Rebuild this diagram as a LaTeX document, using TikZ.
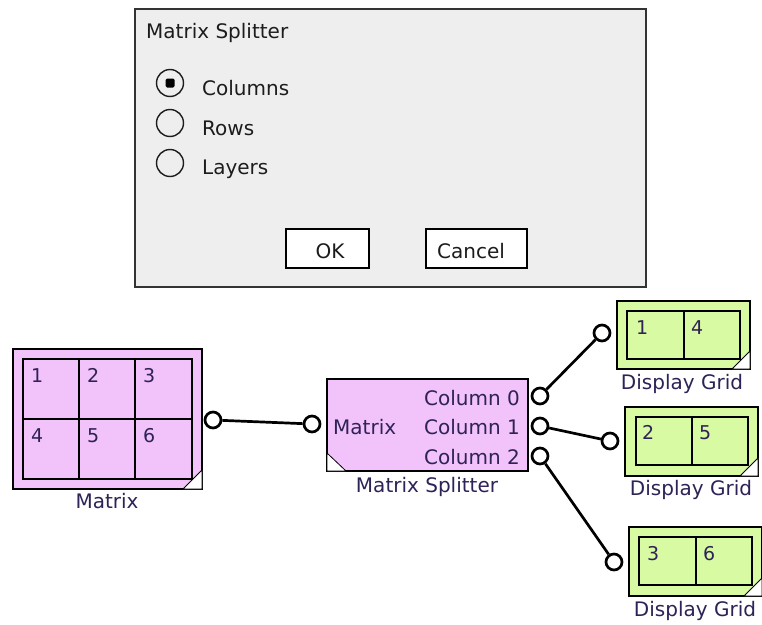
\documentclass[tikz,border=0pt]{standalone}
\usepackage{fontspec}
\setmainfont{DejaVu Sans}
\definecolor{dlgfill}{HTML}{EEEEEE}
\definecolor{dlgdraw}{HTML}{333333}
\definecolor{pinkc}{HTML}{F2C2FA}
\definecolor{greenc}{HTML}{D8FAA2}
\definecolor{labc}{HTML}{2E2256}
\definecolor{dtext}{HTML}{1C1C1C}
\tikzset{
  txt/.style={font=\fontsize{20}{24}\selectfont, inner sep=0pt},
  dlgtxt/.style={txt, text=dtext, anchor=base west},
  lbl/.style={txt, text=labc, anchor=base},
  num/.style={font=\fontsize{19}{22}\selectfont, text=labc, inner sep=0pt, anchor=base west},
  port/.style={circle, draw=black, line width=2.7pt, minimum size=16pt, inner sep=0pt, fill=white},
  wire/.style={line width=2.7pt, black},
  pinkblk/.style={rectangle, draw=black, line width=1.2pt, fill=pinkc, inner sep=0pt},
  greenblk/.style={rectangle, draw=black, line width=1.2pt, fill=greenc, inner sep=0pt},
  cell/.style={draw=black, line width=1.5pt},
  corner/.style={draw=black, line width=0.8pt, fill=white},
  radio/.style={circle, draw=dtext, line width=1.4pt, minimum size=27pt, inner sep=0pt, fill=dlgfill},
  btn/.style={rectangle, draw=black, line width=1.8pt, fill=white, inner sep=0pt},
}
\begin{document}
\begin{tikzpicture}[x=1pt, y=-1pt]
\useasboundingbox (0,0) rectangle (762,624);
\fill[white] (0,0) rectangle (762,624);

% ---------- dialog ----------
\node[rectangle, draw=dlgdraw, line width=2pt, fill=dlgfill, minimum width=511pt, minimum height=278pt, inner sep=0pt] (dialog) at (390.5,148) {};
\node[dlgtxt] (title) at (146,38) {Matrix Splitter};
\node[radio] (r1) at (170,83) {};
\node[radio] (r2) at (170,123) {};
\node[radio] (r3) at (170,163) {};
\fill[black, rounded corners=1.5pt] ([shift={(-4.5,-4.5)}]r1.center) rectangle ([shift={(4.5,4.5)}]r1.center);
\node[dlgtxt] (l1) at (202,95) {Columns};
\node[dlgtxt] (l2) at (202,135) {Rows};
\node[dlgtxt] (l3) at (202,174) {Layers};
\node[btn, minimum width=83pt, minimum height=39pt] (ok) at (327.5,248.5) {};
\node[txt, text=dtext, anchor=base] (oktxt) at (330,258) {OK};
\node[btn, minimum width=101pt, minimum height=39pt] (cancel) at (476.5,248.5) {};
\node[txt, text=dtext, anchor=base] (canceltxt) at (471,258) {Cancel};

% ---------- Matrix block ----------
\node[pinkblk, minimum width=189pt, minimum height=140pt] (mat) at (107.5,419) {};
\draw[cell] (23,359) rectangle (192,479);
\draw[cell] (79,359) -- (79,479);
\draw[cell] (135,359) -- (135,479);
\draw[cell] (23,419) -- (192,419);
\fill[corner] (183,489) -- (202,489) -- (202,470) -- cycle;
\node[num] (m1) at (31,382) {1};
\node[num] (m2) at (87,382) {2};
\node[num] (m3) at (143,382) {3};
\node[num] (m4) at (31,442) {4};
\node[num] (m5) at (87,442) {5};
\node[num] (m6) at (143,442) {6};
\node[lbl] (matlbl) at (107,508) {Matrix};
\node[port] (matout) at (213,420) {};

% ---------- Matrix Splitter block ----------
\node[pinkblk, minimum width=201pt, minimum height=92pt] (split) at (427.5,425) {};
\fill[corner] (327,453) -- (327,471) -- (346,471) -- cycle;
\node[txt, text=labc, anchor=base west] (sin) at (333,434) {Matrix};
\node[txt, text=labc, anchor=base east] (c0) at (520,405) {Column 0};
\node[txt, text=labc, anchor=base east] (c1) at (520,434) {Column 1};
\node[txt, text=labc, anchor=base east] (c2) at (520,464) {Column 2};
\node[lbl] (splitlbl) at (427,492) {Matrix Splitter};
\node[port] (splitin) at (312,424) {};
\node[port] (out0) at (540,396) {};
\node[port] (out1) at (540,426) {};
\node[port] (out2) at (540,456) {};

% ---------- Display Grid 1 ----------
\node[greenblk, minimum width=133pt, minimum height=68pt] (g1) at (683.5,335) {};
\draw[cell] (627,311) rectangle (740,359);
\draw[cell] (684,311) -- (684,359);
\fill[corner] (732,369) -- (750,369) -- (750,351) -- cycle;
\node[num] (g1a) at (636,334) {1};
\node[num] (g1b) at (691,334) {4};
\node[lbl] (g1lbl) at (682,389) {Display Grid};
\node[port] (g1in) at (602,333) {};

% ---------- Display Grid 2 ----------
\node[greenblk, minimum width=133pt, minimum height=69pt] (g2) at (691.5,441.5) {};
\draw[cell] (636,417) rectangle (748,465);
\draw[cell] (692,417) -- (692,465);
\fill[corner] (740,476) -- (758,476) -- (758,458) -- cycle;
\node[num] (g2a) at (642,439) {2};
\node[num] (g2b) at (699,439) {5};
\node[lbl] (g2lbl) at (691,495) {Display Grid};
\node[port] (g2in) at (610,441) {};

% ---------- Display Grid 3 ----------
\node[greenblk, minimum width=133pt, minimum height=69pt] (g3) at (695.5,561.5) {};
\draw[cell] (639,537) rectangle (752,585);
\draw[cell] (696,537) -- (696,585);
\fill[corner] (744,596) -- (762,596) -- (762,578) -- cycle;
\node[num] (g3a) at (647,560) {3};
\node[num] (g3b) at (703,560) {6};
\node[lbl] (g3lbl) at (695,616) {Display Grid};
\node[port] (g3in) at (614,562) {};

% ---------- wires ----------
\draw[wire] (matout) -- (splitin);
\draw[wire] (out0) -- (g1in);
\draw[wire] (out1) -- (g2in);
\draw[wire] (out2) -- (g3in);
\end{tikzpicture}
\end{document}
